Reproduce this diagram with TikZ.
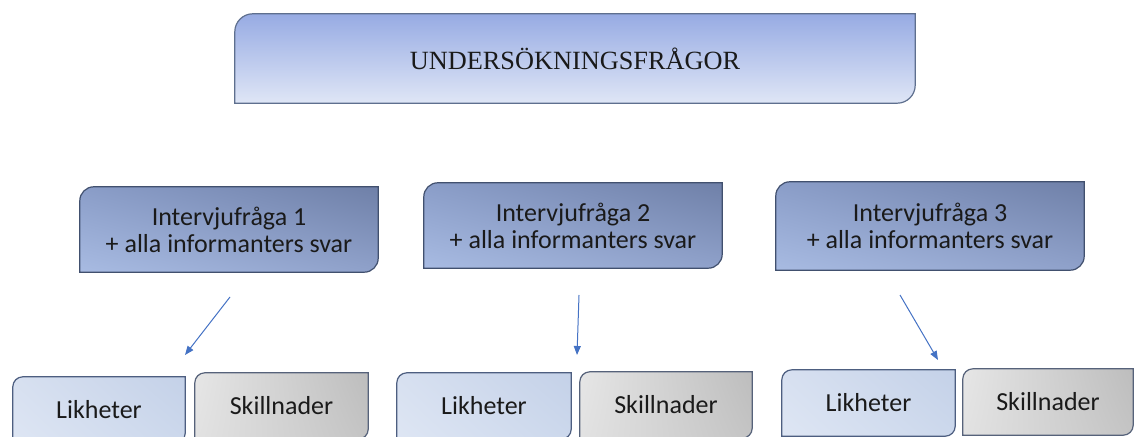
\documentclass[tikz,border=0pt]{standalone}
\usepackage{fontspec}
\setmainfont{Carlito}
\newfontfamily\serifface{Liberation Serif}
\usetikzlibrary{arrows.meta,backgrounds,shadings}
\definecolor{txt}{HTML}{1A1A1A}
\definecolor{arrowblue}{HTML}{4472C4}
\definecolor{topA}{HTML}{97ABE3}
\definecolor{topB}{HTML}{DFE6F6}
\definecolor{topline}{HTML}{5E6F8E}
\definecolor{qUL}{HTML}{8A9DC8}
\definecolor{qUR}{HTML}{6F80A8}
\definecolor{qLL}{HTML}{A8BBE2}
\definecolor{qLR}{HTML}{8FA1CA}
\definecolor{qline}{HTML}{41506E}
\definecolor{lUL}{HTML}{D7E0F0}
\definecolor{lUR}{HTML}{C4D1E8}
\definecolor{lLL}{HTML}{DEE6F4}
\definecolor{lLR}{HTML}{CCD8EC}
\definecolor{lline}{HTML}{4D5E80}
\definecolor{sUL}{HTML}{E6E6E6}
\definecolor{sUR}{HTML}{BDBDBD}
\definecolor{sLL}{HTML}{E2E2E2}
\definecolor{sLR}{HTML}{C4C4C4}
\definecolor{sline}{HTML}{56627A}
\tikzset{
  boxtext/.style={inner sep=0pt, align=center, text=txt, font=\fontsize{26}{27}\selectfont},
  topshade/.style={top color=topA, bottom color=topB, draw=topline, line width=1.2pt},
  qshade/.style={upper left=qUL, upper right=qUR, lower left=qLL, lower right=qLR, draw=qline, line width=1.2pt},
  lshade/.style={upper left=lUL, upper right=lUR, lower left=lLL, lower right=lLR, draw=lline, line width=1.2pt},
  sshade/.style={upper left=sUL, upper right=sUR, lower left=sLL, lower right=sLR, draw=sline, line width=1.2pt},
  connector/.style={draw=arrowblue, line width=1pt, -{Triangle[length=9pt,width=7pt]}},
}
\newcommand\diagshape[3]{%
  \shade[#3] ([yshift=-#2]#1.north west) arc[start angle=180,end angle=90,radius=#2]
    -- (#1.north east) -- ([yshift=#2]#1.south east) arc[start angle=0,end angle=-90,radius=#2]
    -- (#1.south west) -- cycle;}
\begin{document}
\begin{tikzpicture}[x=1pt,y=1pt]
\useasboundingbox (0,0) rectangle (1134,436);
% top
\node[boxtext, minimum width=680pt, minimum height=89pt] (top) at (575,377.5)
  {\serifface\fontsize{26.3}{26}\selectfont UNDERSÖKNINGSFRÅGOR};
% questions
\node[boxtext, minimum width=298pt, minimum height=85pt] (q1) at (229,206.5) {Intervjufråga 1\\+ alla informanters svar};
\node[boxtext, minimum width=298pt, minimum height=85pt] (q2) at (573,210.5) {Intervjufråga 2\\+ alla informanters svar};
\node[boxtext, minimum width=308pt, minimum height=88pt] (q3) at (930,210) {Intervjufråga 3\\+ alla informanters svar};
% bottom
\node[boxtext, minimum width=172pt, minimum height=66pt] (l1) at (99,26) {Likheter};
\node[boxtext, minimum width=173pt, minimum height=66pt] (s1) at (281.5,30) {Skillnader};
\node[boxtext, minimum width=174pt, minimum height=66pt] (l2) at (484,30) {Likheter};
\node[boxtext, minimum width=172pt, minimum height=66pt] (s2) at (666,31) {Skillnader};
\node[boxtext, minimum width=173pt, minimum height=66pt] (l3) at (868.5,33) {Likheter};
\node[boxtext, minimum width=170pt, minimum height=66pt] (s3) at (1048,34) {Skillnader};
\begin{pgfonlayer}{background}
\clip (0,0) rectangle (1134,436);
\diagshape{top}{18pt}{topshade}
\diagshape{q1}{14pt}{qshade}
\diagshape{q2}{14pt}{qshade}
\diagshape{q3}{14pt}{qshade}
\diagshape{l1}{10pt}{lshade}
\diagshape{s1}{10pt}{sshade}
\diagshape{l2}{10pt}{lshade}
\diagshape{s2}{10pt}{sshade}
\diagshape{l3}{10pt}{lshade}
\diagshape{s3}{10pt}{sshade}
\end{pgfonlayer}
% connectors
\coordinate (a1s) at (230,139); \coordinate (a1e) at (185,81);
\coordinate (a2s) at (579,141); \coordinate (a2e) at (577,81);
\coordinate (a3s) at (900,141); \coordinate (a3e) at (938,76);
\draw[connector] (a1s) -- (a1e);
\draw[connector] (a2s) -- (a2e);
\draw[connector] (a3s) -- (a3e);
\end{tikzpicture}
\end{document}
